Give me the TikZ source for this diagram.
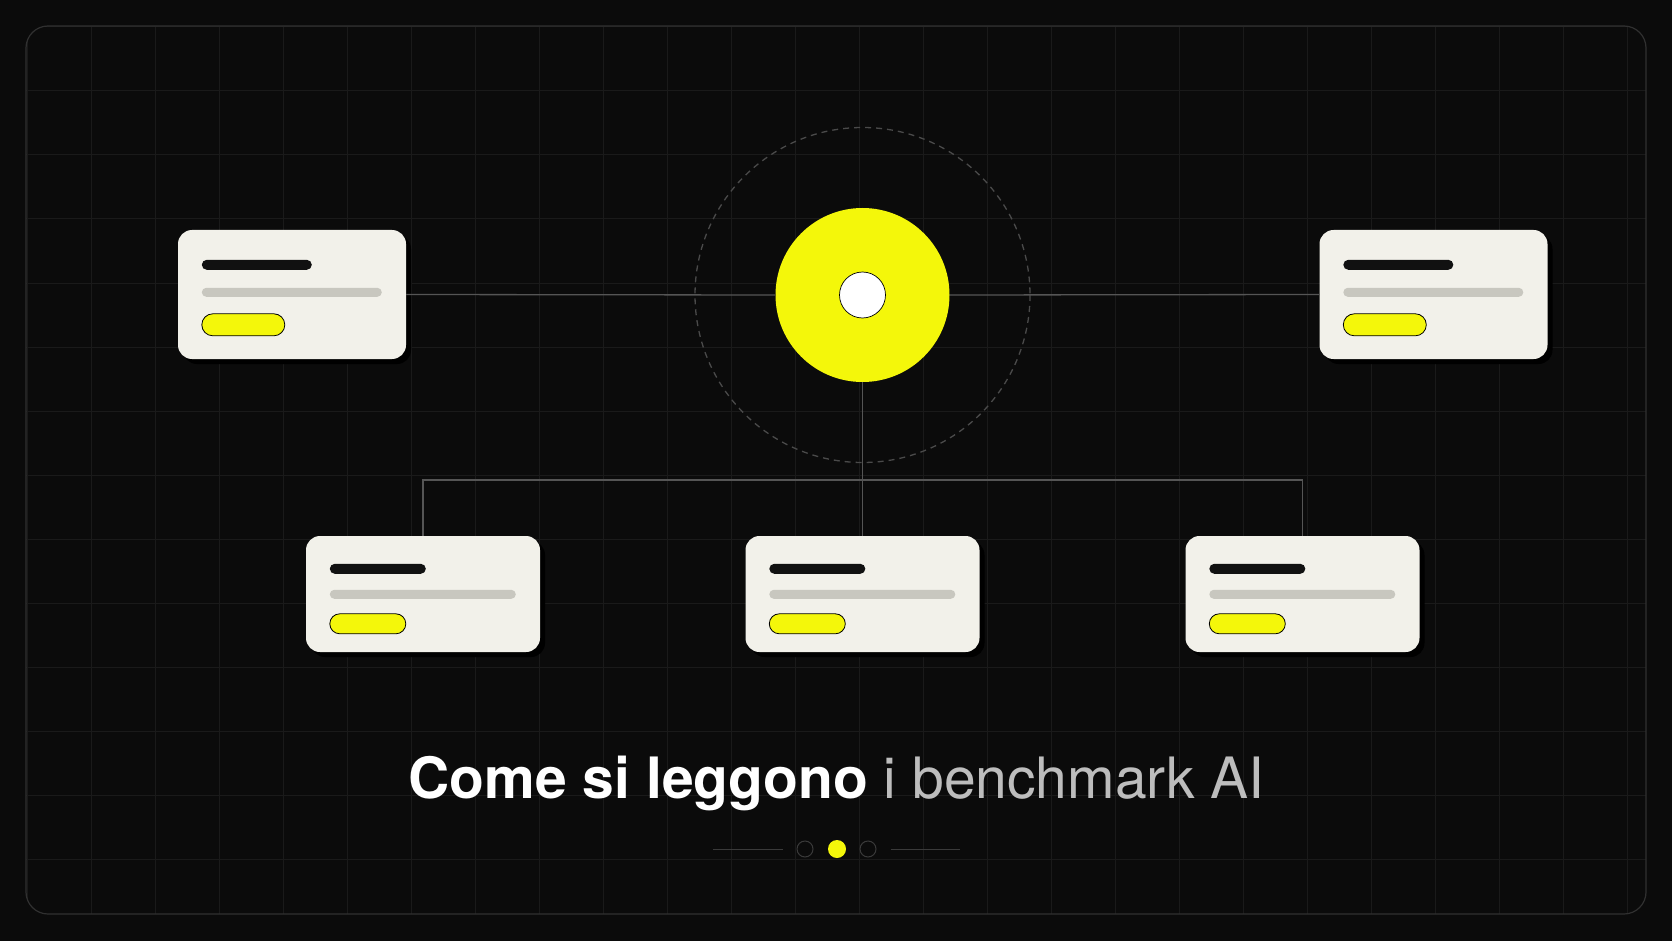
\documentclass[tikz,border=0pt]{standalone}
\usepackage{fontspec}
\setmainfont{TeX Gyre Heros}
\usetikzlibrary{calc,shadows}
\definecolor{bgc}{HTML}{0B0B0B}
\definecolor{gridc}{HTML}{1A1A1A}
\definecolor{framec}{HTML}{303030}
\definecolor{cardc}{HTML}{F2F1EA}
\definecolor{darkbarc}{HTML}{111111}
\definecolor{graybarc}{HTML}{C8C7BF}
\definecolor{yelc}{HTML}{F4F70A}
\definecolor{linkc}{HTML}{555555}
\definecolor{dashc}{HTML}{4A4A4A}
\definecolor{subtc}{HTML}{BDBDBD}
\definecolor{dotc}{HTML}{3A3A3A}
\tikzset{
  card/.style={draw=none, fill=cardc, rounded corners=14pt, inner sep=0pt,
    drop shadow={shadow xshift=5pt, shadow yshift=-5pt, fill=black, opacity=1}},
  topcard/.style={card, minimum width=228pt, minimum height=129pt},
  botcard/.style={card, minimum width=234pt, minimum height=116pt},
  link/.style={draw=linkc, line width=1.3pt},
  hubc/.style={circle, fill=yelc, minimum size=174pt, inner sep=0pt},
  hubin/.style={circle, fill=white, draw=black, line width=0.7pt, minimum size=46pt, inner sep=0pt},
  dbar/.style={fill=darkbarc, rounded corners=5pt},
  gbar/.style={fill=graybarc, rounded corners=4.5pt},
  pill/.style={fill=yelc, draw=black, line width=0.8pt},
  ringdot/.style={circle, draw=dotc, line width=1pt, minimum size=16pt, inner sep=0pt},
  yeldot/.style={circle, fill=yelc, minimum size=18pt, inner sep=0pt},
}
\begin{document}
\begin{tikzpicture}[x=1pt,y=-1pt]
\fill[bgc] (0,0) rectangle (1672,941);
\useasboundingbox (0,0) rectangle (1672,941);
% grid
\begin{scope}
\clip[rounded corners=22pt] (26,26) rectangle (1646,914);
\foreach \i in {0,...,25} \draw[gridc, line width=1pt] (27+64*\i,26) -- (27+64*\i,914);
\foreach \j in {0,...,13} \draw[gridc, line width=1pt] (26,27+64*\j) -- (1646,27+64*\j);
\end{scope}
\draw[framec, line width=1.2pt, rounded corners=22pt] (26,26) rectangle (1646,914);

% dashed ring
\coordinate (hc) at (862.5,295);
\draw[dashc, line width=1.3pt, dash pattern=on 6pt off 5pt] (hc) circle (167.5);

% cards
\node[topcard] (cl) at (292,294.5) {};
\node[topcard] (cr) at (1433.5,294.5) {};
\node[botcard] (bl) at (423,594) {};
\node[botcard] (bm) at (862.5,594) {};
\node[botcard] (br) at (1302.5,594) {};

% hub
\node[hubc] (hub) at (hc) {};
\node[hubin] (hubi) at (hc) {};

% connectors
\coordinate (bus) at (862.5,480);
\draw[link] (cl.east) -- (hub.west);
\draw[link] (hub.east) -- (cr.west);
\draw[link] (hub.south) -- (bm.north);
\draw[link] (bl.north) -- (bl.north |- bus) -| (br.north);

% card contents
\foreach \c in {cl,cr} {
  \fill[dbar] ($(\c.north west)+(24,30)$) rectangle ++(110,10);
  \fill[gbar] ($(\c.north west)+(24,58)$) rectangle ++(180,9);
  \filldraw[pill, rounded corners=11pt] ($(\c.north west)+(24,84)$) rectangle ++(83,22);
}
\foreach \c in {bl,bm,br} {
  \fill[dbar] ($(\c.north west)+(24,28)$) rectangle ++(96,10);
  \fill[gbar] ($(\c.north west)+(24,54)$) rectangle ++(186,9);
  \filldraw[pill, rounded corners=10pt] ($(\c.north west)+(24,78)$) rectangle ++(76,20);
}

% title
\node[anchor=base, inner sep=0pt, font=\fontsize{57}{64}\selectfont] (title) at (836.5,798)
  {\color{white}\bfseries Come si leggono\color{subtc}\mdseries\ i benchmark AI};

% pager
\node[ringdot] (d1) at (805,849) {};
\node[yeldot] (d2) at (837,849) {};
\node[ringdot] (d3) at (868,849) {};
\coordinate (l1) at (713,849);
\coordinate (r1) at (960,849);
\draw[dotc, line width=1pt] (l1) -- ($(d1.west)+(-14,0)$);
\draw[dotc, line width=1pt] ($(d3.east)+(14,0)$) -- (r1);
\end{tikzpicture}
\end{document}
